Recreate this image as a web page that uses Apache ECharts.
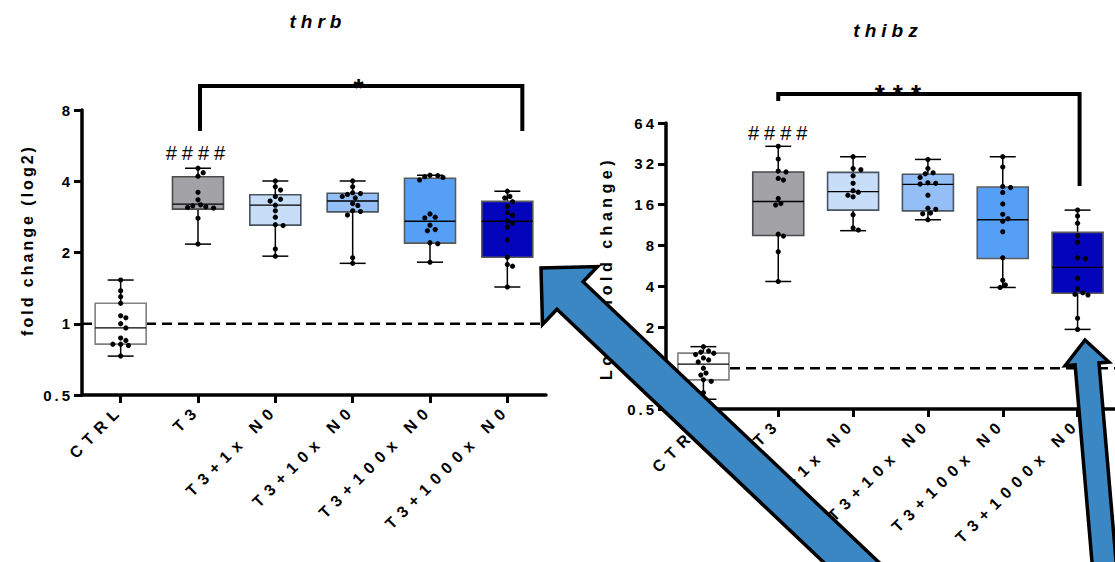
<!DOCTYPE html>
<html>
<head>
<meta charset="utf-8">
<script src="https://cdn.jsdelivr.net/npm/echarts@6/dist/echarts.min.js"></script>
<style>
  html, body { margin: 0; background: #ffffff; }
  #chart { width: 1115px; height: 562px; }
</style>
</head>
<body>
<div id="chart"></div>
<script>
const categories = ['CTRL', 'T3', 'T3+1x N0', 'T3+10x N0', 'T3+100x N0', 'T3+1000x N0']

// box stats per group: [min, Q1, median, Q3, max]
const thrbBoxes = [
  [0.73, 0.82, 0.96, 1.22, 1.53],
  [2.17, 3.05, 3.20, 4.18, 4.54],
  [1.93, 2.61, 3.17, 3.51, 4.01],
  [1.80, 2.97, 3.30, 3.56, 4.01],
  [1.82, 2.19, 2.71, 4.12, 4.24],
  [1.43, 1.91, 2.71, 3.29, 3.63],
]
const thrbPoints = [
  [1.53, 1.38, 1.30, 1.22, 1.08, 1.06, 1.00, 0.96, 0.87, 0.85, 0.82, 0.82, 0.81, 0.73],
  [4.54, 4.35, 4.20, 3.59, 3.34, 3.18, 3.15, 3.12, 3.10, 3.08, 2.79, 2.17],
  [4.01, 3.79, 3.67, 3.45, 3.36, 3.30, 3.17, 3.00, 2.82, 2.62, 2.60, 2.07, 1.93],
  [4.01, 3.79, 3.58, 3.55, 3.52, 3.45, 3.40, 3.22, 3.16, 3.00, 2.98, 2.88, 1.90, 1.80],
  [4.24, 4.22, 4.18, 4.15, 4.05, 2.91, 2.82, 2.80, 2.61, 2.50, 2.47, 2.20, 2.18, 1.82],
  [3.63, 3.45, 3.40, 3.28, 3.13, 2.95, 2.88, 2.72, 2.66, 2.56, 2.26, 1.91, 1.78, 1.75, 1.43],
]

const thibzBoxes = [
  [0.59, 0.82, 1.07, 1.29, 1.44],
  [4.35, 9.5, 16.9, 27.9, 43.1],
  [10.3, 14.6, 20.0, 27.7, 36.1],
  [12.4, 14.4, 22.6, 26.8, 34.5],
  [3.93, 6.42, 12.4, 21.6, 36.1],
  [1.93, 3.56, 5.53, 10.0, 14.6],
]
const thibzPoints = [
  [1.44, 1.34, 1.31, 1.29, 1.26, 1.19, 1.15, 1.11, 1.00, 0.92, 0.89, 0.82, 0.80, 0.66, 0.59],
  [43.1, 34.7, 28.3, 27.9, 25.0, 24.3, 17.8, 16.3, 15.9, 9.7, 9.4, 7.2, 4.35],
  [36.1, 29.6, 29.0, 26.1, 23.0, 20.3, 19.8, 18.8, 18.3, 13.5, 10.8, 10.4],
  [34.5, 29.6, 27.5, 27.0, 25.4, 23.2, 23.0, 22.7, 18.8, 15.1, 14.8, 13.9, 13.7, 12.4],
  [36.1, 30.4, 21.8, 21.4, 19.7, 16.2, 13.6, 12.6, 12.1, 10.1, 6.5, 4.45, 4.1, 3.93],
  [14.6, 13.2, 11.7, 9.45, 8.45, 6.5, 6.4, 4.59, 3.83, 3.6, 3.5, 3.46, 2.33, 1.93],
]

const thrbTicks = [0.5, 1, 2, 4, 8]
const thibzTicks = [0.5, 1, 2, 4, 8, 16, 32, 64]
const baseline = 1

const boxColors = ['#ffffff', '#a3a2a7', '#c7ddf8', '#93bef6', '#569ff6', '#0404bd']
const boxBorders = ['#808080', '#4a4a4a', '#4a5563', '#4a5563', '#5a5a5a', '#5a5a5a']

const FONT = '"Liberation Sans", Arial, sans-serif'

// beeswarm: spread points sideways only where they would overlap
const swarm = (ys) => {
  const step = 2.6
  const minDist = 5.4
  const xs = []
  ys.forEach((y) => {
    for (let k = 0; k < 40; k++) {
      const cand = k === 0 ? 0 : (k % 2 ? 1 : -1) * Math.ceil(k / 2) * step
      const ok = xs.every((x, j) => (x - cand) ** 2 + (ys[j] - y) ** 2 >= minDist * minDist)
      if (ok) {
        xs.push(cand)
        return
      }
    }
    xs.push(0)
  })
  return xs
}

const boxRenderer = (params, api) => {
  const i = api.value(0)
  const x = api.coord([i, api.value(3)])[0]
  const yMin = api.coord([i, api.value(1)])[1]
  const yQ1 = api.coord([i, api.value(2)])[1]
  const yMed = api.coord([i, api.value(3)])[1]
  const yQ3 = api.coord([i, api.value(4)])[1]
  const yMax = api.coord([i, api.value(5)])[1]
  const bw = 51
  const cw = 26
  const black = { stroke: '#000000', lineWidth: 1.5 }
  return {
    type: 'group',
    children: [
      { type: 'line', shape: { x1: x, y1: yMax, x2: x, y2: yMin }, style: black },
      { type: 'line', shape: { x1: x - cw / 2, y1: yMax, x2: x + cw / 2, y2: yMax }, style: black },
      { type: 'line', shape: { x1: x - cw / 2, y1: yMin, x2: x + cw / 2, y2: yMin }, style: black },
      {
        type: 'rect',
        shape: { x: x - bw / 2, y: yQ3, width: bw, height: yQ1 - yQ3 },
        style: { fill: boxColors[i], stroke: boxBorders[i], lineWidth: 1.6 },
      },
      { type: 'line', shape: { x1: x - bw / 2, y1: yMed, x2: x + bw / 2, y2: yMed }, style: { stroke: '#000000', lineWidth: 1.3 } },
    ],
  }
}

const pointRenderer = (points) => (params, api) => {
  const ci = api.value(0)
  const pi = api.value(2)
  const ys = points[ci].map((v) => api.coord([ci, v])[1])
  const offs = swarm(ys)
  const c = api.coord([ci, api.value(1)])
  return {
    type: 'circle',
    shape: { cx: c[0] + offs[pi], cy: c[1], r: 2.6 },
    style: { fill: '#000000' },
  }
}

const dashRenderer = (params, api) => {
  const cs = params.coordSys
  const y = api.coord([0, api.value(1)])[1]
  return {
    type: 'line',
    shape: { x1: cs.x, y1: y, x2: cs.x + cs.width, y2: y },
    style: { stroke: '#000000', lineWidth: 2.5, lineDash: [10, 6] },
  }
}

const makeXAxis = (gridIndex) => ({
  type: 'category',
  gridIndex,
  data: categories,
  boundaryGap: true,
  axisLine: { show: true, lineStyle: { color: '#000000', width: 3.5 } },
  axisTick: { show: true, alignWithLabel: true, length: 8, lineStyle: { color: '#000000', width: 3 } },
  axisLabel: {
    interval: 0,
    rotate: 45,
    margin: 12,
    color: '#000000',
    fontSize: 16,
    fontWeight: 'bold',
    fontFamily: FONT,
  },
  splitLine: { show: false },
})

const makeYAxis = (gridIndex, ticks) => ({
  type: 'log',
  logBase: 2,
  gridIndex,
  min: ticks[0],
  max: ticks[ticks.length - 1],
  interval: 1,
  splitNumber: ticks.length - 1,
  axisLine: { show: true, lineStyle: { color: '#000000', width: 3.5 } },
  axisTick: { show: true, length: 8, lineStyle: { color: '#000000', width: 3 } },
  axisLabel: {
    margin: 9,
    color: '#000000',
    fontSize: 15,
    fontWeight: 'bold',
    fontFamily: FONT,
    formatter: (v) => String(Math.round(v * 100) / 100),
  },
  splitLine: { show: false },
})

const boxData = (boxes) => boxes.map((b, i) => [i, ...b])
const pointData = (points) => points.flatMap((vals, ci) => vals.map((v, pi) => [ci, v, pi]))

const chart = echarts.init(document.getElementById('chart'), null, { renderer: 'svg' })

const option = {
  animation: false,
  backgroundColor: '#ffffff',
  grid: [
    { left: 82, top: 110, width: 464, height: 285, outerBoundsMode: 'none', containLabel: false },
    { left: 666, top: 123, width: 449, height: 286, outerBoundsMode: 'none', containLabel: false },
  ],
  xAxis: [makeXAxis(0), makeXAxis(1)],
  yAxis: [makeYAxis(0, thrbTicks), makeYAxis(1, thibzTicks)],
  series: [
    { type: 'custom', xAxisIndex: 0, yAxisIndex: 0, data: [[0, baseline]], renderItem: dashRenderer, silent: true },
    { type: 'custom', xAxisIndex: 1, yAxisIndex: 1, data: [[0, baseline]], renderItem: dashRenderer, silent: true },
    {
      type: 'custom', name: 'thrb', xAxisIndex: 0, yAxisIndex: 0,
      data: boxData(thrbBoxes), encode: { x: 0, y: [1, 2, 3, 4, 5] }, renderItem: boxRenderer,
    },
    {
      type: 'custom', name: 'thibz', xAxisIndex: 1, yAxisIndex: 1,
      data: boxData(thibzBoxes), encode: { x: 0, y: [1, 2, 3, 4, 5] }, renderItem: boxRenderer,
    },
    {
      type: 'custom', xAxisIndex: 0, yAxisIndex: 0,
      data: pointData(thrbPoints), encode: { x: 0, y: 1 }, renderItem: pointRenderer(thrbPoints),
    },
    {
      type: 'custom', xAxisIndex: 1, yAxisIndex: 1,
      data: pointData(thibzPoints), encode: { x: 0, y: 1 }, renderItem: pointRenderer(thibzPoints),
    },
  ],
}

chart.setOption(option)

// annotations, anchored on the category positions
const catX = (axisIndex, name) => chart.convertToPixel({ xAxisIndex: axisIndex }, name)

const arrowPoints = (tip, tail, shaftHalf, headHalf, headLen) => {
  const dx = tail[0] - tip[0]
  const dy = tail[1] - tip[1]
  const len = Math.hypot(dx, dy)
  const ux = dx / len
  const uy = dy / len
  const nx = -uy
  const ny = ux
  const hb = [tip[0] + ux * headLen, tip[1] + uy * headLen]
  return [
    tip,
    [hb[0] + nx * headHalf, hb[1] + ny * headHalf],
    [hb[0] + nx * shaftHalf, hb[1] + ny * shaftHalf],
    [tail[0] + nx * shaftHalf, tail[1] + ny * shaftHalf],
    [tail[0] - nx * shaftHalf, tail[1] - ny * shaftHalf],
    [hb[0] - nx * shaftHalf, hb[1] - ny * shaftHalf],
    [hb[0] - nx * headHalf, hb[1] - ny * headHalf],
  ]
}

const textEl = (text, x, y, font, extra) => ({
  type: 'text',
  x,
  y,
  z: 50,
  style: Object.assign({ text, fill: '#000000', align: 'center', verticalAlign: 'middle', font }, extra || {}),
})

const lT3 = catX(0, 'T3')
const lEnd = catX(0, 'T3+1000x N0')
const rT3 = catX(1, 'T3')
const rEnd = catX(1, 'T3+1000x N0')

const arrowStyle = { fill: '#3b87c4', stroke: '#000000', lineWidth: 3.5, lineJoin: 'miter' }

chart.setOption({
  graphic: [
    textEl('thrb', 318, 21, 'italic bold 19px ' + FONT),
    textEl('thibz', 888, 30, 'italic bold 19px ' + FONT),
    Object.assign(textEl('fold change (log2)', 27, 240, 'bold 16px ' + FONT), { rotation: Math.PI / 2 }),
    Object.assign(textEl('Log2 (fold change)', 606, 268, 'bold 16px ' + FONT), { rotation: Math.PI / 2 }),
    textEl('####', lT3, 153, '20px ' + FONT),
    textEl('####', rT3 + 2, 133, '20px ' + FONT),
    textEl('*', (lT3 + lEnd) / 2 + 10, 88, 'bold 26px ' + FONT),
    textEl('***', (rT3 + rEnd) / 2 - 26, 94, 'bold 26px ' + FONT),
    {
      type: 'polyline', z: 50,
      shape: { points: [[lT3 + 2, 131], [lT3 + 2, 86], [lEnd + 15, 86], [lEnd + 15, 131]] },
      style: { stroke: '#000000', lineWidth: 4, fill: null },
    },
    {
      type: 'polyline', z: 50,
      shape: { points: [[rT3, 101], [rT3, 94], [rEnd + 2, 94], [rEnd + 2, 186]] },
      style: { stroke: '#000000', lineWidth: 4, fill: null },
    },
    { type: 'polygon', z: 100, shape: { points: arrowPoints([541, 268], [872, 582], 19, 40, 40) }, style: arrowStyle },
    { type: 'polygon', z: 100, shape: { points: arrowPoints([1085, 340], [1106, 585], 12, 22, 24) }, style: arrowStyle },
  ],
})

// GraphPad-style wide letter spacing on the svg text
const tickText = new Set([...thrbTicks, ...thibzTicks].map((v) => String(v)))
const applySpacing = () => {
  document.querySelectorAll('#chart svg text').forEach((t) => {
    const s = t.textContent
    let ls = 3
    if (categories.includes(s)) ls = 6.5
    else if (tickText.has(s)) ls = 3
    else if (s === 'thrb' || s === 'thibz') ls = 5
    else if (s.startsWith('#')) ls = 5
    else if (s.startsWith('*')) ls = 8
    else if (s.startsWith('Log2')) ls = 4.5
    t.setAttribute('letter-spacing', ls)
  })
}
chart.on('finished', applySpacing)
chart.getZr().flush()
applySpacing()
</script>
</body>
</html>
